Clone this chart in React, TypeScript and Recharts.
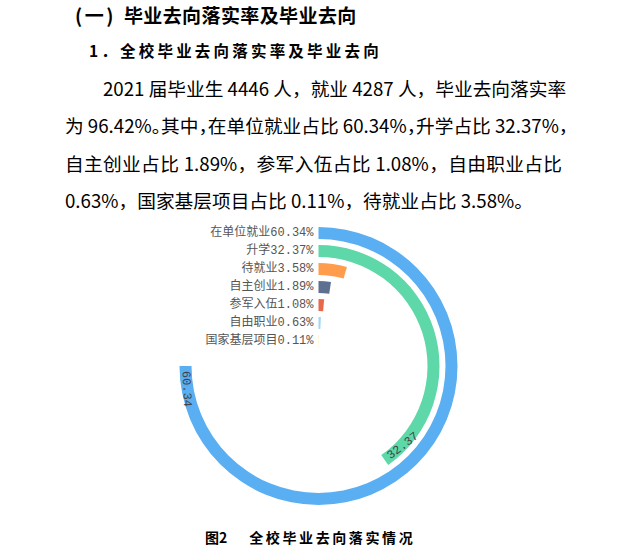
import { RadialBarChart, RadialBar, PolarAngleAxis, PolarRadiusAxis, Cell, LabelList } from 'recharts';

// 毕业去向（由外向内）
const categories = ['在单位就业', '升学', '待就业', '自主创业', '参军入伍', '自由职业', '国家基层项目'];
const shares = [60.34, 32.37, 3.58, 1.89, 1.08, 0.63, 0.11];
const colors = ['#5aaef2', '#5ed8a8', '#ff9d4d', '#5d7092', '#e8684a', '#9fd8f5', '#f6d56a'];
// 最大项占 3/4 圆
const angleMax = 80.45;

const paraLines = [
  '2021 届毕业生 4446 人，就业 4287 人，毕业去向落实率',
  '为 96.42%。其中，在单位就业占比 60.34%，升学占比 32.37%，',
  '自主创业占比  1.89%，参军入伍占比  1.08%，自由职业占比',
  '0.63%，国家基层项目占比 0.11%，待就业占比 3.58%。',
];

// 半径轴按数据顺序从内到外排列，所以这里倒过来
const chartData = categories
  .map((name, i) => ({ name, value: shares[i], fill: colors[i] }))
  .reverse();

const labelFont = "'Liberation Mono', 'Noto Sans CJK SC'";

function CategoryTick(props: any) {
  const { x, y, payload } = props;
  const i = categories.indexOf(payload.value);
  return (
    <text x={x - 5} y={y} textAnchor="end" dominantBaseline="central" fontSize={12} fill="#555" fontFamily={labelFont}>
      {payload.value}{shares[i]}%
    </text>
  );
}

function ArcValueLabel(props: any) {
  const { viewBox, value } = props;
  if (!viewBox || value < 10) return null;
  const { cx, cy, innerRadius, outerRadius, endAngle } = viewBox;
  const r = (innerRadius + outerRadius) / 2;
  // 顺时针从 12 点钟量起的角度
  const phi = 90 - endAngle - (5 / r) * (180 / Math.PI);
  const rad = (phi * Math.PI) / 180;
  const x = cx + r * Math.sin(rad);
  const y = cy - r * Math.cos(rad);
  return (
    <text
      x={x}
      y={y}
      textAnchor="start"
      dominantBaseline="central"
      fontSize={12}
      fill="#444"
      fontFamily={labelFont}
      transform={`rotate(${phi - 180} ${x} ${y})`}
    >
      {value}
    </text>
  );
}

const lineStyle = (top: number, left: number, width?: number): React.CSSProperties => ({
  position: 'absolute',
  top,
  left,
  width,
  height: 26,
  lineHeight: '26px',
  whiteSpace: 'nowrap',
  textAlign: width ? 'justify' : 'left',
  textAlignLast: width ? 'justify' : 'auto',
});

export default function App() {
  return (
    <div
      style={{
        position: 'absolute',
        left: 0,
        top: 0,
        width: 644,
        height: 552,
        background: '#fff',
        color: '#000',
        fontFamily: "'Noto Sans CJK SC', sans-serif",
        overflow: 'hidden',
      }}
    >
      <div style={{ position: 'absolute', top: 2, left: 75, fontSize: 19, fontWeight: 700, lineHeight: '26px', whiteSpace: 'nowrap' }}>
        <span style={{ letterSpacing: 2.5 }}>(一)</span>
        <span style={{ display: 'inline-block', width: 8 }} />
        <span style={{ letterSpacing: 0.4 }}>毕业去向落实率及毕业去向</span>
      </div>
      <div style={{ position: 'absolute', top: 37, left: 89, fontSize: 15.5, fontWeight: 700, lineHeight: '26px', letterSpacing: 3.2 }}>
        1．全校毕业去向落实率及毕业去向
      </div>

      <div style={{ fontSize: 18.7 }}>
        <div style={lineStyle(75, 103, 459)}>{paraLines[0]}</div>
        <div style={{ ...lineStyle(112, 65, 497), fontFeatureSettings: '"halt"' }}>{paraLines[1]}</div>
        <div style={lineStyle(150, 65, 497)}>{paraLines[2]}</div>
        <div style={lineStyle(187, 65)}>{paraLines[3]}</div>
      </div>

      <div style={{ position: 'absolute', top: 200, left: 0 }}>
        <RadialBarChart
          width={644}
          height={320}
          cx={318.5}
          cy={166}
          innerRadius={16}
          outerRadius={142}
          startAngle={90}
          endAngle={-270}
          barSize={12}
          data={chartData}
          margin={{ top: 0, right: 0, bottom: 0, left: 0 }}
        >
          <PolarAngleAxis type="number" domain={[0, angleMax]} tick={false} axisLine={false} />
          <PolarRadiusAxis
            type="category"
            dataKey="name"
            angle={90}
            axisLine={false}
            tickLine={false}
            tick={<CategoryTick />}
          />
          <RadialBar dataKey="value" isAnimationActive={false}>
            {chartData.map((d) => (
              <Cell key={d.name} fill={d.fill} />
            ))}
            <LabelList dataKey="value" content={<ArcValueLabel />} />
          </RadialBar>
        </RadialBarChart>
      </div>

      <div
        style={{
          position: 'absolute',
          top: 525,
          left: 205,
          fontSize: 14,
          fontWeight: 700,
          lineHeight: '24px',
          whiteSpace: 'nowrap',
        }}
      >
        图2<span style={{ display: 'inline-block', width: 22 }} />
        <span style={{ letterSpacing: 2.6 }}>全校毕业去向落实情况</span>
      </div>
    </div>
  );
}
